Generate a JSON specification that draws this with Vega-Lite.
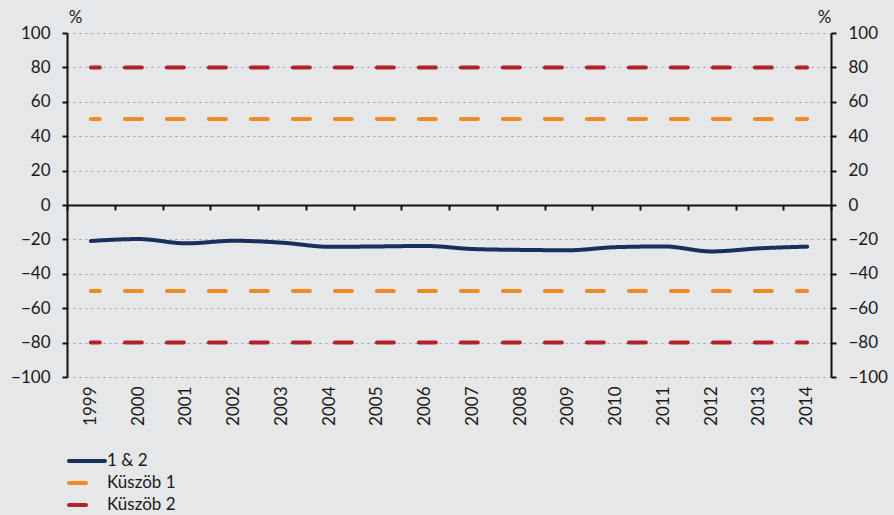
{
  "$schema": "https://vega.github.io/schema/vega-lite/v6.json",
  "width": 764,
  "height": 344,
  "autosize": {"type": "none"},
  "padding": {"left": 67, "top": 33, "right": 63, "bottom": 138},
  "background": "#e6e7e9",
  "config": {
    "view": {"stroke": null},
    "font": "Lato",
    "axis": {
      "labelFont": "Lato",
      "labelFontSize": 17,
      "labelColor": "#1a1a1a",
      "titleFont": "Lato",
      "titleFontSize": 17,
      "titleColor": "#1a1a1a",
      "titleFontWeight": "normal",
      "domainColor": "#111111",
      "domainWidth": 2,
      "tickColor": "#111111",
      "tickWidth": 2,
      "tickSize": 5
    }
  },
  "data": {
    "values": [
      {"year": "1999", "series": "1 & 2", "line": "a", "value": -20.9},
      {"year": "2000", "series": "1 & 2", "line": "a", "value": -19.8},
      {"year": "2001", "series": "1 & 2", "line": "a", "value": -22.3},
      {"year": "2002", "series": "1 & 2", "line": "a", "value": -20.8},
      {"year": "2003", "series": "1 & 2", "line": "a", "value": -21.9},
      {"year": "2004", "series": "1 & 2", "line": "a", "value": -24.3},
      {"year": "2005", "series": "1 & 2", "line": "a", "value": -24.1},
      {"year": "2006", "series": "1 & 2", "line": "a", "value": -23.8},
      {"year": "2007", "series": "1 & 2", "line": "a", "value": -25.6},
      {"year": "2008", "series": "1 & 2", "line": "a", "value": -26.1},
      {"year": "2009", "series": "1 & 2", "line": "a", "value": -26.3},
      {"year": "2010", "series": "1 & 2", "line": "a", "value": -24.5},
      {"year": "2011", "series": "1 & 2", "line": "a", "value": -24.1},
      {"year": "2012", "series": "1 & 2", "line": "a", "value": -27.0},
      {"year": "2013", "series": "1 & 2", "line": "a", "value": -25.2},
      {"year": "2014", "series": "1 & 2", "line": "a", "value": -24.2},
      {"year": "1999", "series": "Küszöb 1", "line": "b", "value": 50},
      {"year": "2014", "series": "Küszöb 1", "line": "b", "value": 50},
      {"year": "1999", "series": "Küszöb 1", "line": "c", "value": -50},
      {"year": "2014", "series": "Küszöb 1", "line": "c", "value": -50},
      {"year": "1999", "series": "Küszöb 2", "line": "d", "value": 80},
      {"year": "2014", "series": "Küszöb 2", "line": "d", "value": 80},
      {"year": "1999", "series": "Küszöb 2", "line": "e", "value": -80},
      {"year": "2014", "series": "Küszöb 2", "line": "e", "value": -80}
    ]
  },
  "layer": [
    {
      "mark": {"type": "line", "interpolate": "monotone", "strokeWidth": 4, "strokeCap": "round", "strokeDashOffset": 8},
      "encoding": {
        "x": {
          "field": "year", "type": "ordinal", "bandPosition": 0.5,
          "scale": {"type": "band", "paddingInner": 0, "paddingOuter": 0},
          "axis": {"orient": "bottom", "offset": -172, "labels": false, "tickBand": "extent", "title": null, "grid": false}
        },
        "y": {
          "field": "value", "type": "quantitative",
          "scale": {"domain": [-100, 100], "nice": false, "zero": false},
          "axis": {
            "orient": "left",
            "values": [-100, -80, -60, -40, -20, 0, 20, 40, 60, 80, 100],
            "grid": true, "gridDash": [2, 4], "gridColor": "#9a9a9a", "gridWidth": 1,
            "labelPadding": 12,
            "title": "%", "titleAngle": 0, "titleX": 8, "titleY": -16, "titleAlign": "center", "titleBaseline": "middle"
          }
        },
        "color": {
          "field": "series", "type": "nominal",
          "scale": {"domain": ["1 & 2", "Küszöb 1", "Küszöb 2"], "range": ["#1b2f5e", "#f18a24", "#b1232a"]},
          "legend": {
            "title": null, "orient": "none", "legendX": 9, "legendY": 417,
            "padding": 0,
            "labelFont": "Lato", "labelFontSize": 17, "labelColor": "#1a1a1a",
            "symbolType": "M-2,0H2", "symbolSize": 324, "symbolStrokeWidth": 4,
            "labelOffset": 9, "rowPadding": 3,
            "encode": {
              "symbols": {
                "update": {
                  "strokeDash": {"signal": "datum.value == '1 & 2' ? [1, 0] : [10, 14]"},
                  "strokeCap": {"value": "round"}
                }
              }
            }
          }
        },
        "strokeDash": {
          "field": "series", "type": "nominal",
          "scale": {"domain": ["1 & 2", "Küszöb 1", "Küszöb 2"], "range": [[1, 0], [17, 25], [17, 25]]},
          "legend": null
        },
        "detail": {"field": "line", "type": "nominal"}
      }
    },
    {
      "mark": {"type": "point", "opacity": 0},
      "encoding": {
        "x": {
          "field": "year", "type": "ordinal",
          "axis": {"orient": "bottom", "domain": false, "ticks": false, "labelAngle": -90, "labelAlign": "right", "labelBaseline": "middle", "labelPadding": 9, "title": null, "grid": false}
        },
        "y": {
          "field": "value", "type": "quantitative",
          "axis": {
            "orient": "right",
            "values": [-100, -80, -60, -40, -20, 0, 20, 40, 60, 80, 100],
            "grid": false,
            "labelPadding": 12,
            "title": "%", "titleAngle": 0, "titleX": -7, "titleY": -16, "titleAlign": "center", "titleBaseline": "middle"
          }
        }
      }
    }
  ],
  "resolve": {"axis": {"x": "independent", "y": "independent"}}
}
